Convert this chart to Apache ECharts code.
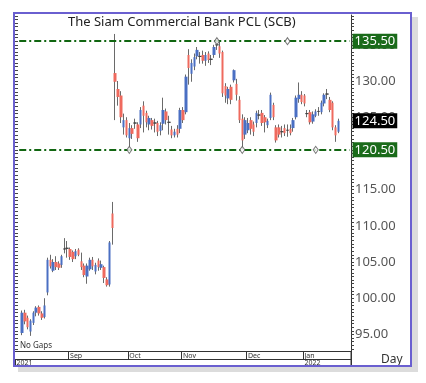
<!DOCTYPE html>
<html><head><meta charset="utf-8">
<script src="https://cdn.jsdelivr.net/npm/echarts@6/dist/echarts.min.js"></script>
<style>html,body{margin:0;padding:0;background:#fff}#c{width:426px;height:383px}</style>
</head><body><div id="c"></div>
<script>
// ---- data (daily OHLC, Aug 2021 - Jan 2022) ----
const opens  = [95.2,98.0,97.3,95.4,96.6,98.0,98.8,97.9,97.4,100.8,105.3,103.8,105.0,104.8,104.6,106.8,106.9,106.8,106.4,105.8,106.7,105.1,104.5,103.0,104.0,105.3,103.7,105.2,104.2,104.3,102.6,101.9,111.7,
  131.1,128.9,128.0,123.6,124.6,122.1,123.5,124.2,124.0,124.0,126.6,125.6,124.0,124.6,124.2,124.2,123.1,124.1,125.8,124.3,123.3,122.5,123.4,123.4,126.0,125.7,133.6,131.0,132.0,133.4,133.4,133.6,132.8,133.8,133.0,133.6,135.0,134.8,134.0,129.3,127.6,129.2,130.1,129.6,127.4,124.8,122.6,123.2,124.6,124.0,124.2,125.3,125.6,125.0,123.9,124.9,126.7,123.6,123.6,123.0,123.5,123.2,123.4,123.5,125.0,127.5,128.1,128.0,125.5,125.7,124.4,125.2,125.8,125.7,126.9,128.2,127.4,127.0,123.6,123.0];
const closes = [98.0,96.8,96.0,96.9,98.0,98.7,97.9,97.3,99.0,105.3,104.4,105.0,104.3,104.2,105.8,106.8,106.9,105.7,105.4,106.5,106.0,104.3,103.2,104.5,105.3,104.4,104.6,104.3,104.7,102.8,101.8,107.7,109.7,
  129.9,127.8,125.0,124.6,122.5,123.5,122.7,124.2,122.1,126.0,125.2,124.3,124.9,123.8,124.2,123.0,123.9,126.0,124.6,124.3,122.5,123.0,122.6,126.0,124.6,130.6,131.8,132.5,133.3,134.3,133.4,132.8,133.6,132.9,133.0,134.7,135.0,133.8,128.3,128.0,128.9,127.4,131.5,128.1,124.6,121.8,124.6,124.2,123.4,123.0,125.6,125.3,124.2,124.3,124.5,128.1,125.0,121.8,122.6,123.0,122.8,123.2,122.8,124.6,127.7,128.1,127.1,126.9,125.5,124.3,125.4,125.8,125.8,127.0,128.1,128.2,126.0,123.6,122.5,124.5];
const lows   = [94.9,96.4,95.7,94.8,96.3,97.5,97.6,97.0,97.2,100.4,104.1,103.6,103.9,103.9,104.2,106.2,105.6,105.3,105.0,105.4,105.8,103.9,102.9,102.0,103.8,103.9,103.3,103.8,103.9,102.1,101.6,101.6,107.4,
  124.6,126.6,124.2,122.6,122.2,120.7,122.0,123.4,121.6,123.5,122.9,123.6,123.2,123.3,122.9,122.4,122.5,123.2,124.0,122.6,122.1,122.2,122.2,122.8,124.2,125.4,129.5,129.9,131.5,133.0,132.4,132.4,132.1,132.5,132.2,133.2,134.3,133.2,127.8,127.0,126.8,126.8,129.8,127.3,124.2,120.5,122.0,122.8,122.6,122.4,123.6,124.7,123.8,122.9,123.5,124.6,124.6,121.5,122.2,122.2,122.4,122.3,122.5,123.0,124.7,127.0,126.8,126.5,125.0,124.0,124.1,125.0,125.2,125.4,126.5,127.5,125.7,123.2,121.6,122.8];
const highs  = [98.3,98.4,97.6,97.1,98.2,98.9,99.0,98.2,100.0,105.6,106.0,105.4,105.8,105.1,106.0,108.3,107.9,107.0,106.6,106.8,106.9,106.3,104.8,104.8,105.6,105.7,104.9,105.5,105.2,104.5,102.9,107.9,113.3,
  136.5,130.0,128.6,125.5,125.0,124.2,123.9,124.8,124.3,126.4,127.2,125.9,125.2,124.9,124.8,124.5,124.3,127.7,126.2,125.2,123.8,123.4,123.9,126.3,126.4,130.9,134.4,133.0,133.8,134.7,134.0,134.2,134.0,134.1,133.6,135.0,135.6,135.4,134.2,129.7,129.2,129.5,131.6,130.3,127.9,125.4,125.0,124.9,125.0,124.4,125.9,126.0,126.0,125.3,124.8,128.4,127.0,123.9,124.0,123.8,124.0,124.0,124.0,124.9,128.0,129.8,128.6,128.2,126.0,126.0,125.8,126.1,126.4,127.3,128.3,128.9,127.8,127.2,123.9,124.8];

const monthLabels = {19:'Sep', 40:'Oct', 59:'Nov', 82:'Dec', 102:'Jan'};
const yearLabels  = {0:'2021', 102:'2022'};
const priceLabels = [95,100,105,110,115,120,125,130,135];
const levelLines  = [135.5, 120.5];
const lastPrice   = 124.5;
const anchorCandle = [69, 94, 38, 78, 104];
const anchorPrice  = [135.5, 135.5, 120.5, 120.5, 120.5];

// ---- build ----
const LEAD = 2, TRAIL = 4;
const N = LEAD + opens.length + TRAIL;
const cats = [];
for (let k = 0; k < N; k++) cats.push('d' + k);
const UP = '#4a6fc3', DOWN = '#ef6a5e', WICK = '#6a6a6a';
const wickData = [], bodyData = [];
for (let k = 0; k < N; k++) {
  const i = k - LEAD;
  if (i < 0 || i >= opens.length) { wickData.push('-'); bodyData.push('-'); continue; }
  const o = opens[i], c = closes[i];
  wickData.push([o, c, lows[i], highs[i]]);
  const item = { value: [o, c, Math.min(o, c), Math.max(o, c)] };
  if (o === c) item.itemStyle = { borderColor: '#444', borderColor0: '#444', borderWidth: 1 };
  bodyData.push(item);
}
const YMIN = 92.71, YMAX = 139.12;
const minorTicks = [];
for (let v = 93; v <= 139; v += 0.5) minorTicks.push(v);
const FONT = 'Noto Sans';

function levelItem(v, bg, showLine) {
  return [
    { coord: [cats[1], v],
      lineStyle: showLine ? { color: '#116611', width: 2, type: [7, 3, 2, 3] } : { color: 'rgba(0,0,0,0)', width: 1 },
      label: { show: true, position: 'end', distance: 3, formatter: v.toFixed(2),
        color: '#fff', backgroundColor: bg, padding: [1, 2, 0, 2], fontSize: 13, fontFamily: FONT, lineHeight: 14 } },
    { coord: [cats[N - 1], v] }
  ];
}
const markData = levelLines.map(v => levelItem(v, '#1a6b1a', true));
markData.push(levelItem(lastPrice, '#000', false));

const chart = echarts.init(document.getElementById('c'), null, { renderer: 'canvas' });
chart.setOption({
  animation: false,
  backgroundColor: '#fff',
  title: { text: 'The Siam Commercial Bank PCL (SCB)', left: 68, top: 16, padding: 0,
    textStyle: { fontSize: 13, fontWeight: 'normal', color: '#222', fontFamily: FONT } },
  grid: { left: 15, right: 75, top: 15, bottom: 32 },
  xAxis: [
    { type: 'category', data: cats, boundaryGap: true, gridIndex: 0,
      axisLine: { show: true, lineStyle: { color: '#333', width: 1 } },
      axisTick: { show: true, length: 8, interval: (i) => monthLabels[i] !== undefined, lineStyle: { color: '#333' } },
      axisLabel: { show: true, interval: (i) => monthLabels[i] !== undefined, formatter: (v, i) => monthLabels[i] || '',
        align: 'left', fontSize: 7, color: '#333', margin: 1, fontFamily: FONT, hideOverlap: false },
      splitLine: { show: false } },
    { type: 'category', data: cats, boundaryGap: true, gridIndex: 0, position: 'bottom', offset: 8,
      axisLine: { show: true, lineStyle: { color: '#333', width: 1 } },
      axisTick: { show: true, length: 7, interval: (i) => i === 102, lineStyle: { color: '#333' } },
      axisLabel: { show: true, interval: (i) => yearLabels[i] !== undefined, formatter: (v, i) => yearLabels[i] || '',
        align: 'left', fontSize: 7, color: '#333', margin: 0, fontFamily: FONT, hideOverlap: false },
      splitLine: { show: false } }
  ],
  yAxis: [
    { type: 'value', position: 'right', min: YMIN, max: YMAX, scale: true,
      axisLine: { show: true, lineStyle: { color: '#333' } },
      axisTick: { show: true, length: 3, customValues: minorTicks, lineStyle: { color: '#444' } },
      axisLabel: { show: true, customValues: priceLabels, formatter: v => v.toFixed(2), fontSize: 13, color: '#555', margin: 4, fontFamily: FONT },
      splitLine: { show: false } },
    { type: 'value', position: 'left', min: YMIN, max: YMAX, scale: true,
      axisLine: { show: false },
      axisTick: { show: true, inside: true, length: 3, customValues: minorTicks, lineStyle: { color: '#444' } },
      axisLabel: { show: false }, splitLine: { show: false } }
  ],
  series: [
    { type: 'candlestick', name: 'wick', data: wickData, barWidth: 1, xAxisIndex: 0, yAxisIndex: 0,
      itemStyle: { color: WICK, color0: WICK, borderColor: WICK, borderColor0: WICK, borderWidth: 1 } },
    { type: 'candlestick', name: 'body', data: bodyData, barWidth: 3, xAxisIndex: 0, yAxisIndex: 0, z: 3,
      itemStyle: { color: UP, color0: DOWN, borderColor: UP, borderColor0: DOWN, borderWidth: 0 },
      markLine: { symbol: ['none', 'none'], silent: true, animation: false, data: markData } },
    { type: 'scatter', name: 'anchors', xAxisIndex: 0, yAxisIndex: 0, z: 5,
      data: anchorCandle.map((c, j) => [cats[c + LEAD], anchorPrice[j]]),
      symbol: 'diamond', symbolSize: [5, 7], itemStyle: { color: '#fff', borderColor: '#555', borderWidth: 1 } }
  ],
  graphic: [
    { type: 'rect', shape: { x: 412, y: 17, width: 6, height: 355 }, style: { fill: '#dcdcdc' }, silent: true },
    { type: 'rect', shape: { x: 18, y: 367, width: 400, height: 5 }, style: { fill: '#dcdcdc' }, silent: true },
    { type: 'line', shape: { x1: 351, y1: 351, x2: 351, y2: 366 }, style: { stroke: '#333', lineWidth: 1 }, silent: true },
    { type: 'text', left: 20, top: 342, style: { text: 'No Gaps', fontSize: 8, fill: '#333', fontFamily: FONT }, silent: true },
    { type: 'text', left: 381, top: 354, style: { text: 'Day', fontSize: 12, fill: '#333', fontFamily: FONT }, silent: true },
    { type: 'rect', z: 100, shape: { x: 14, y: 13, width: 397, height: 353 }, style: { fill: 'transparent', stroke: '#6a5fd0', lineWidth: 2 }, silent: true }
  ]
});
</script></body></html>
